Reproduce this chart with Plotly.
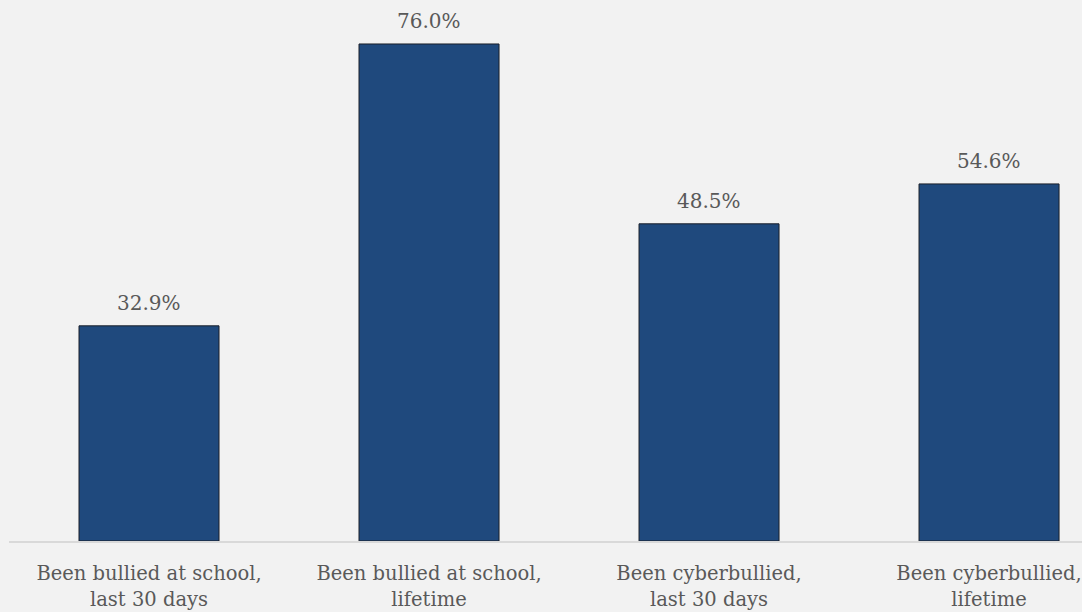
import plotly.graph_objects as go

categories = ["Been bullied at school,<br>last 30 days", "Been bullied at school,<br>lifetime",
              "Been cyberbullied,<br>last 30 days", "Been cyberbullied,<br>lifetime"]
values = [32.9, 76.0, 48.5, 54.6]
labels = [f"{v:.1f}%" for v in values]

FONT = "DejaVu Serif"

fig = go.Figure(go.Bar(
    x=categories, y=values,
    marker=dict(color="#1f497d", line=dict(color="#1a1f29", width=1)),
    width=0.5, hoverinfo="skip",
))
for c, v, t in zip(categories, values, labels):
    fig.add_annotation(x=c, y=v, text=t, showarrow=False, yanchor="bottom", yshift=9,
                       font=dict(family=FONT, size=20, color="#595959"))
fig.update_layout(
    width=1082, height=612,
    margin=dict(l=9, r=0, t=5, b=71),
    paper_bgcolor="#f2f2f2", plot_bgcolor="#f2f2f2",
    showlegend=False,
    xaxis=dict(range=[-0.5, 3.332], showline=True, linecolor="#d9d9d9", linewidth=2,
               tickfont=dict(family=FONT, size=19.5, color="#595959"), ticks="",
               ticklabelstandoff=14, showgrid=False, fixedrange=True),
    yaxis=dict(range=[0, 81.96], visible=False, showgrid=False, zeroline=False, fixedrange=True),
)
fig.write_html("out.html", config={"displayModeBar": False, "staticPlot": True},
               post_script="document.body.style.margin='0';document.body.style.overflow='hidden';document.body.style.background='#f2f2f2';")
